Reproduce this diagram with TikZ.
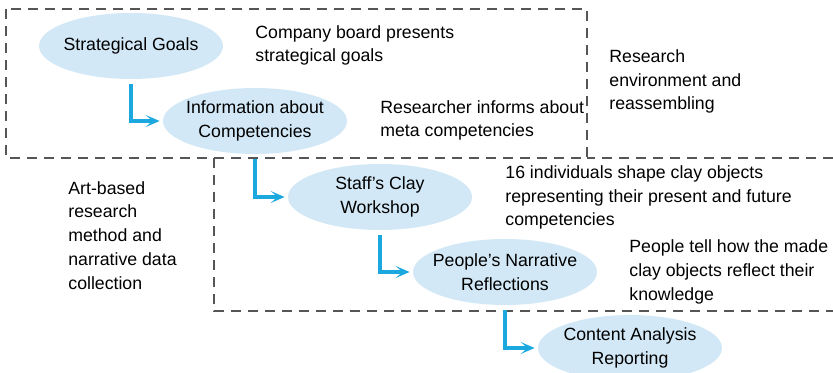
\documentclass[tikz,border=0pt]{standalone}
\usepackage{fontspec}
\setmainfont{Liberation Sans}
\usetikzlibrary{shapes.geometric,arrows.meta}
\definecolor{phasefill}{HTML}{D2E8F6}
\definecolor{flowblue}{HTML}{1AA8DE}
\definecolor{zonegray}{HTML}{555555}
\newcommand{\notefont}{\fontsize{8.85}{11.85}\selectfont}

\begin{document}
\begin{tikzpicture}[x=0.5pt,y=-0.5pt,
  phase/.style={ellipse,fill=phasefill,minimum width=92pt,minimum height=33pt,inner xsep=-6pt,inner ysep=-4pt,align=center,font=\notefont},
  note/.style={anchor=base west,align=left,inner sep=0pt,font=\notefont},
  flow/.style={flowblue,line width=1.8pt,-{Stealth[length=7pt,width=6pt,inset=3.5pt]},shorten <=2.5pt,shorten >=1.5pt},
  zone/.style={zonegray,line width=0.8pt,dash pattern=on 5pt off 3.5pt}]
\useasboundingbox (0,0) rectangle (833,373);

% dashed zones
\draw[zone] (6,9) rectangle (587,158);
\draw[zone] (833,158) -- (587,158);
\draw[zone] (214,158) |- (833,311);

% phases
\node[phase] at (131,46) (sg) {Strategical Goals};
\node[phase] at (255,121) (ic) {Information about\\Competencies};
\node[phase] at (380,197) (scw) {Staff’s Clay\\Workshop};
\node[phase] at (505,272) (pnr) {People’s Narrative\\Reflections};
\node[phase] at (630,348) (car) {Content Analysis\\Reporting};

\draw[flow] (sg.south) |- (ic.west);
\draw[flow] (ic.south) |- (scw.west);
\draw[flow] (scw.south) |- (pnr.west);
\draw[flow] (pnr.south) |- (car.west);

% notes (anchored at the baseline of their last line)
\node[note] at (255,62) (n1) {Company board presents\\strategical goals};
\node[note] at (380,137) (n2) {Researcher informs about\\meta competencies};
\node[note] at (609,110) (n3) {Research\\environment and\\reassembling};
\node[note] at (505,226) (n4) {16 individuals shape clay objects\\representing their present and future\\competencies};
\node[note] at (629,300) (n5) {People tell how the made\\clay objects reflect their\\knowledge};
\node[note] at (68,289) (n6) {Art-based\\research\\method and\\narrative data\\collection};
\end{tikzpicture}
\end{document}
